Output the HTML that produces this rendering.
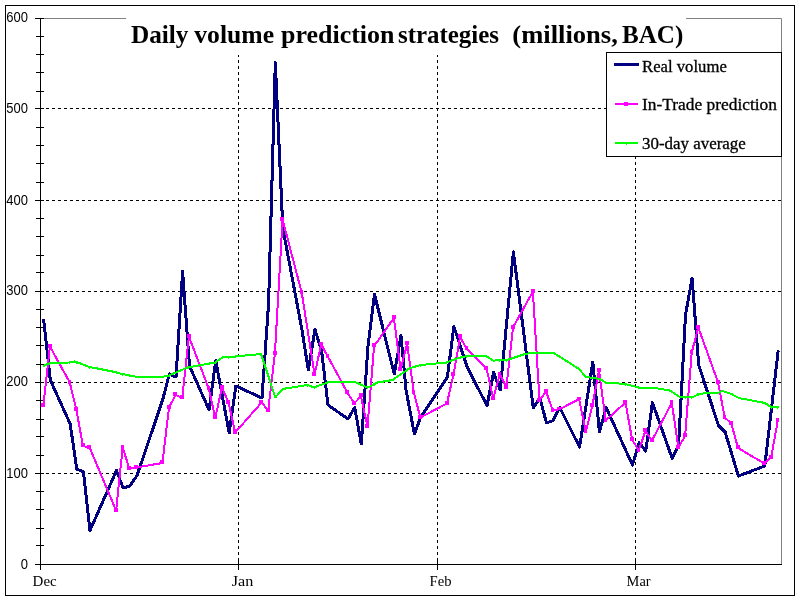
<!DOCTYPE html>
<html><head><meta charset="utf-8"><title>Daily volume prediction strategies</title>
<style>
html,body{margin:0;padding:0;background:#fff;}
body{width:800px;height:600px;overflow:hidden;font-family:"Liberation Sans",sans-serif;}
svg{display:block;}
text{fill:#000;}
svg{will-change:transform;}
</style></head><body>
<svg width="800" height="600" viewBox="0 0 800 600">
<rect x="5.5" y="5.5" width="789" height="590" fill="#fff" stroke="#000" stroke-width="1"/>
<path d="M40 18.5H781.5V564" fill="none" stroke="#808080" stroke-width="1"/>
<line x1="40" y1="108.5" x2="781" y2="108.5" stroke="#000" stroke-width="1" stroke-dasharray="3 3"/>
<line x1="40" y1="200.5" x2="781" y2="200.5" stroke="#000" stroke-width="1" stroke-dasharray="3 3"/>
<line x1="40" y1="291.5" x2="781" y2="291.5" stroke="#000" stroke-width="1" stroke-dasharray="3 3"/>
<line x1="40" y1="382.5" x2="781" y2="382.5" stroke="#000" stroke-width="1" stroke-dasharray="3 3"/>
<line x1="40" y1="473.5" x2="781" y2="473.5" stroke="#000" stroke-width="1" stroke-dasharray="3 3"/>
<line x1="238.5" y1="18" x2="238.5" y2="564" stroke="#000" stroke-width="1" stroke-dasharray="3 3"/>
<line x1="437.5" y1="18" x2="437.5" y2="564" stroke="#000" stroke-width="1" stroke-dasharray="3 3"/>
<line x1="635.5" y1="18" x2="635.5" y2="564" stroke="#000" stroke-width="1" stroke-dasharray="3 3"/>
<line x1="40.5" y1="18" x2="40.5" y2="570" stroke="#000"/>
<line x1="40" y1="564.5" x2="782" y2="564.5" stroke="#000"/>
<line x1="35" y1="18.5" x2="44" y2="18.5" stroke="#000"/>
<line x1="36" y1="36.5" x2="44" y2="36.5" stroke="#000"/>
<line x1="36" y1="54.5" x2="44" y2="54.5" stroke="#000"/>
<line x1="36" y1="72.5" x2="44" y2="72.5" stroke="#000"/>
<line x1="36" y1="91.5" x2="44" y2="91.5" stroke="#000"/>
<line x1="35" y1="108.5" x2="44" y2="108.5" stroke="#000"/>
<line x1="36" y1="127.5" x2="44" y2="127.5" stroke="#000"/>
<line x1="36" y1="145.5" x2="44" y2="145.5" stroke="#000"/>
<line x1="36" y1="163.5" x2="44" y2="163.5" stroke="#000"/>
<line x1="36" y1="182.5" x2="44" y2="182.5" stroke="#000"/>
<line x1="35" y1="200.5" x2="44" y2="200.5" stroke="#000"/>
<line x1="36" y1="218.5" x2="44" y2="218.5" stroke="#000"/>
<line x1="36" y1="236.5" x2="44" y2="236.5" stroke="#000"/>
<line x1="36" y1="255.5" x2="44" y2="255.5" stroke="#000"/>
<line x1="36" y1="272.5" x2="44" y2="272.5" stroke="#000"/>
<line x1="35" y1="291.5" x2="44" y2="291.5" stroke="#000"/>
<line x1="36" y1="309.5" x2="44" y2="309.5" stroke="#000"/>
<line x1="36" y1="327.5" x2="44" y2="327.5" stroke="#000"/>
<line x1="36" y1="345.5" x2="44" y2="345.5" stroke="#000"/>
<line x1="36" y1="364.5" x2="44" y2="364.5" stroke="#000"/>
<line x1="35" y1="382.5" x2="44" y2="382.5" stroke="#000"/>
<line x1="36" y1="400.5" x2="44" y2="400.5" stroke="#000"/>
<line x1="36" y1="419.5" x2="44" y2="419.5" stroke="#000"/>
<line x1="36" y1="436.5" x2="44" y2="436.5" stroke="#000"/>
<line x1="36" y1="455.5" x2="44" y2="455.5" stroke="#000"/>
<line x1="35" y1="473.5" x2="44" y2="473.5" stroke="#000"/>
<line x1="36" y1="491.5" x2="44" y2="491.5" stroke="#000"/>
<line x1="36" y1="509.5" x2="44" y2="509.5" stroke="#000"/>
<line x1="36" y1="528.5" x2="44" y2="528.5" stroke="#000"/>
<line x1="36" y1="545.5" x2="44" y2="545.5" stroke="#000"/>
<line x1="35" y1="564.5" x2="44" y2="564.5" stroke="#000"/>
<line x1="238.5" y1="561" x2="238.5" y2="570" stroke="#000"/>
<line x1="437.5" y1="561" x2="437.5" y2="570" stroke="#000"/>
<line x1="635.5" y1="561" x2="635.5" y2="570" stroke="#000"/>
<text transform="translate(28,21.5) scale(1,1.09)" text-anchor="end" font-family="Liberation Sans, sans-serif" font-size="13">600</text>
<text transform="translate(28,112.5) scale(1,1.09)" text-anchor="end" font-family="Liberation Sans, sans-serif" font-size="13">500</text>
<text transform="translate(28,204.5) scale(1,1.09)" text-anchor="end" font-family="Liberation Sans, sans-serif" font-size="13">400</text>
<text transform="translate(28,294.5) scale(1,1.09)" text-anchor="end" font-family="Liberation Sans, sans-serif" font-size="13">300</text>
<text transform="translate(28,385.5) scale(1,1.09)" text-anchor="end" font-family="Liberation Sans, sans-serif" font-size="13">200</text>
<text transform="translate(28,477.5) scale(1,1.09)" text-anchor="end" font-family="Liberation Sans, sans-serif" font-size="13">100</text>
<text transform="translate(28,568.5) scale(1,1.09)" text-anchor="end" font-family="Liberation Sans, sans-serif" font-size="13">0</text>
<text x="32.6" y="585.6" font-family="Liberation Serif, serif" font-size="15" textLength="24.1" lengthAdjust="spacingAndGlyphs">Dec</text>
<text x="231.8" y="585.6" font-family="Liberation Serif, serif" font-size="15" textLength="21.6" lengthAdjust="spacingAndGlyphs">Jan</text>
<text x="429.6" y="585.6" font-family="Liberation Serif, serif" font-size="15" textLength="22" lengthAdjust="spacingAndGlyphs">Feb</text>
<text x="626.6" y="585.6" font-family="Liberation Serif, serif" font-size="15" textLength="24" lengthAdjust="spacingAndGlyphs">Mar</text>
<g shape-rendering="crispEdges" fill="none" stroke-linejoin="round" stroke-linecap="round">
<polyline points="43.7,320 50.3,380 70.2,424 76.8,469 83.4,472 90,530.5 116.5,470.5 123.1,488 129.7,486 137,475.6 162.6,400 169.4,374 176,377 182.6,271.5 189.5,366 209.1,410 215.7,360.6 229.2,433 235.8,386 262,398 268.6,303 275.3,62.5 282.8,228 301.8,329 308.3,370 315,329.5 321.6,351 328,405 348,419 354.7,407.5 361.3,444 367.9,347 374.5,294.5 394.3,374 401,335.5 406,390 414.4,434 420.6,417.5 447.3,377.5 453.9,326.5 467.1,367 487,405.6 493.6,372.5 500.2,390 513.4,252 533.3,408 539.9,398 546.5,423 553.1,420.6 559.7,407.5 579.6,447 592.8,362 599.4,432 606.1,407.5 632.5,465 639.1,442.5 645.8,451 652.4,402.5 672.2,458.5 678.6,445 685.5,315 692.1,278 698.7,365 718.5,425.6 725.1,432 738.4,476 764.8,466 778.1,351.5" stroke="#000080" stroke-width="3"/>
<polyline points="43.3,405.5 49.9,346.5 69.8,382.5 76.4,410 83,446.1 89.6,447.5 116.1,510.5 122.7,447.5 129.3,468.5 135.9,467.5 162.4,463 169,407.5 175.6,394.9 182.2,398 188.9,336.5 208.7,388.5 215.3,418 221.9,387.5 228.5,402.5 235.2,432.5 261.6,402.5 268.2,410.5 274.9,353.5 282.6,219.5 301.8,293 314.6,374.5 321.2,344.25 327.8,356.5 347.6,393 354.3,403.5 360.9,396.1 367.5,426.5 374.1,346.1 393.9,318 400.6,369.5 407.2,344 413.8,392.5 420.4,417.5 446.9,403.5 453.5,374.5 460.1,337 466.7,349 486.6,368.5 493.2,398.5 499.8,374.25 506.4,387.5 513,327.5 532.9,291.5 539.5,400.5 546.1,391.5 552.7,410.5 559.3,409.25 579.2,399.25 585.8,431.5 592.4,405.5 599,370.5 605.7,420.5 625.5,402.5 632.1,439.5 638.7,450.5 645.4,431.1 652,440.5 671.8,403 678.4,447.5 685.1,436.1 691.7,352.5 698.3,327.5 718.1,382.5 724.7,417.5 731.4,423.5 738,448 764.4,463.5 771.1,457.5 777.7,421.1" stroke="#ff00ff" stroke-width="2"/>
<rect x="41.175" y="402.875" width="3.75" height="3.75" fill="#ff00ff" stroke="none"/>
<rect x="47.775" y="343.875" width="3.75" height="3.75" fill="#ff00ff" stroke="none"/>
<rect x="67.675" y="379.875" width="3.75" height="3.75" fill="#ff00ff" stroke="none"/>
<rect x="74.275" y="407.375" width="3.75" height="3.75" fill="#ff00ff" stroke="none"/>
<rect x="80.875" y="443.475" width="3.75" height="3.75" fill="#ff00ff" stroke="none"/>
<rect x="87.475" y="444.875" width="3.75" height="3.75" fill="#ff00ff" stroke="none"/>
<rect x="113.975" y="507.875" width="3.75" height="3.75" fill="#ff00ff" stroke="none"/>
<rect x="120.575" y="444.875" width="3.75" height="3.75" fill="#ff00ff" stroke="none"/>
<rect x="127.175" y="465.875" width="3.75" height="3.75" fill="#ff00ff" stroke="none"/>
<rect x="133.775" y="464.875" width="3.75" height="3.75" fill="#ff00ff" stroke="none"/>
<rect x="160.275" y="460.375" width="3.75" height="3.75" fill="#ff00ff" stroke="none"/>
<rect x="166.875" y="404.875" width="3.75" height="3.75" fill="#ff00ff" stroke="none"/>
<rect x="173.475" y="392.275" width="3.75" height="3.75" fill="#ff00ff" stroke="none"/>
<rect x="180.075" y="395.375" width="3.75" height="3.75" fill="#ff00ff" stroke="none"/>
<rect x="186.775" y="333.875" width="3.75" height="3.75" fill="#ff00ff" stroke="none"/>
<rect x="206.575" y="385.875" width="3.75" height="3.75" fill="#ff00ff" stroke="none"/>
<rect x="213.175" y="415.375" width="3.75" height="3.75" fill="#ff00ff" stroke="none"/>
<rect x="219.775" y="384.875" width="3.75" height="3.75" fill="#ff00ff" stroke="none"/>
<rect x="226.375" y="399.875" width="3.75" height="3.75" fill="#ff00ff" stroke="none"/>
<rect x="233.075" y="429.875" width="3.75" height="3.75" fill="#ff00ff" stroke="none"/>
<rect x="259.475" y="399.875" width="3.75" height="3.75" fill="#ff00ff" stroke="none"/>
<rect x="266.075" y="407.875" width="3.75" height="3.75" fill="#ff00ff" stroke="none"/>
<rect x="272.775" y="350.875" width="3.75" height="3.75" fill="#ff00ff" stroke="none"/>
<rect x="280.475" y="216.875" width="3.75" height="3.75" fill="#ff00ff" stroke="none"/>
<rect x="299.675" y="290.375" width="3.75" height="3.75" fill="#ff00ff" stroke="none"/>
<rect x="312.475" y="371.875" width="3.75" height="3.75" fill="#ff00ff" stroke="none"/>
<rect x="319.075" y="341.625" width="3.75" height="3.75" fill="#ff00ff" stroke="none"/>
<rect x="325.675" y="353.875" width="3.75" height="3.75" fill="#ff00ff" stroke="none"/>
<rect x="345.475" y="390.375" width="3.75" height="3.75" fill="#ff00ff" stroke="none"/>
<rect x="352.175" y="400.875" width="3.75" height="3.75" fill="#ff00ff" stroke="none"/>
<rect x="358.775" y="393.475" width="3.75" height="3.75" fill="#ff00ff" stroke="none"/>
<rect x="365.375" y="423.875" width="3.75" height="3.75" fill="#ff00ff" stroke="none"/>
<rect x="371.975" y="343.475" width="3.75" height="3.75" fill="#ff00ff" stroke="none"/>
<rect x="391.775" y="315.375" width="3.75" height="3.75" fill="#ff00ff" stroke="none"/>
<rect x="398.475" y="366.875" width="3.75" height="3.75" fill="#ff00ff" stroke="none"/>
<rect x="405.075" y="341.375" width="3.75" height="3.75" fill="#ff00ff" stroke="none"/>
<rect x="411.675" y="389.875" width="3.75" height="3.75" fill="#ff00ff" stroke="none"/>
<rect x="418.275" y="414.875" width="3.75" height="3.75" fill="#ff00ff" stroke="none"/>
<rect x="444.775" y="400.875" width="3.75" height="3.75" fill="#ff00ff" stroke="none"/>
<rect x="451.375" y="371.875" width="3.75" height="3.75" fill="#ff00ff" stroke="none"/>
<rect x="457.975" y="334.375" width="3.75" height="3.75" fill="#ff00ff" stroke="none"/>
<rect x="464.575" y="346.375" width="3.75" height="3.75" fill="#ff00ff" stroke="none"/>
<rect x="484.475" y="365.875" width="3.75" height="3.75" fill="#ff00ff" stroke="none"/>
<rect x="491.075" y="395.875" width="3.75" height="3.75" fill="#ff00ff" stroke="none"/>
<rect x="497.675" y="371.625" width="3.75" height="3.75" fill="#ff00ff" stroke="none"/>
<rect x="504.275" y="384.875" width="3.75" height="3.75" fill="#ff00ff" stroke="none"/>
<rect x="510.875" y="324.875" width="3.75" height="3.75" fill="#ff00ff" stroke="none"/>
<rect x="530.775" y="288.875" width="3.75" height="3.75" fill="#ff00ff" stroke="none"/>
<rect x="537.375" y="397.875" width="3.75" height="3.75" fill="#ff00ff" stroke="none"/>
<rect x="543.975" y="388.875" width="3.75" height="3.75" fill="#ff00ff" stroke="none"/>
<rect x="550.575" y="407.875" width="3.75" height="3.75" fill="#ff00ff" stroke="none"/>
<rect x="557.175" y="406.625" width="3.75" height="3.75" fill="#ff00ff" stroke="none"/>
<rect x="577.075" y="396.625" width="3.75" height="3.75" fill="#ff00ff" stroke="none"/>
<rect x="583.675" y="428.875" width="3.75" height="3.75" fill="#ff00ff" stroke="none"/>
<rect x="590.275" y="402.875" width="3.75" height="3.75" fill="#ff00ff" stroke="none"/>
<rect x="596.875" y="367.875" width="3.75" height="3.75" fill="#ff00ff" stroke="none"/>
<rect x="603.575" y="417.875" width="3.75" height="3.75" fill="#ff00ff" stroke="none"/>
<rect x="623.375" y="399.875" width="3.75" height="3.75" fill="#ff00ff" stroke="none"/>
<rect x="629.975" y="436.875" width="3.75" height="3.75" fill="#ff00ff" stroke="none"/>
<rect x="636.575" y="447.875" width="3.75" height="3.75" fill="#ff00ff" stroke="none"/>
<rect x="643.275" y="428.475" width="3.75" height="3.75" fill="#ff00ff" stroke="none"/>
<rect x="649.875" y="437.875" width="3.75" height="3.75" fill="#ff00ff" stroke="none"/>
<rect x="669.675" y="400.375" width="3.75" height="3.75" fill="#ff00ff" stroke="none"/>
<rect x="676.275" y="444.875" width="3.75" height="3.75" fill="#ff00ff" stroke="none"/>
<rect x="682.975" y="433.475" width="3.75" height="3.75" fill="#ff00ff" stroke="none"/>
<rect x="689.575" y="349.875" width="3.75" height="3.75" fill="#ff00ff" stroke="none"/>
<rect x="696.175" y="324.875" width="3.75" height="3.75" fill="#ff00ff" stroke="none"/>
<rect x="715.975" y="379.875" width="3.75" height="3.75" fill="#ff00ff" stroke="none"/>
<rect x="722.575" y="414.875" width="3.75" height="3.75" fill="#ff00ff" stroke="none"/>
<rect x="729.275" y="420.875" width="3.75" height="3.75" fill="#ff00ff" stroke="none"/>
<rect x="735.875" y="445.375" width="3.75" height="3.75" fill="#ff00ff" stroke="none"/>
<rect x="762.275" y="460.875" width="3.75" height="3.75" fill="#ff00ff" stroke="none"/>
<rect x="768.975" y="454.875" width="3.75" height="3.75" fill="#ff00ff" stroke="none"/>
<rect x="775.575" y="418.475" width="3.75" height="3.75" fill="#ff00ff" stroke="none"/>
<polyline points="43.5,366 50,363 69,362.5 74.5,361.5 82,364 89,367 95,368 115,372 122,374 128,375 137,377 162,377 169,375.5 187.5,367.5 215,362.5 222.5,357.5 235,356.5 261,354 268,375 275.3,397.5 282.5,389 307.5,385 314,387.5 328.75,382 355,382 367.8,387.7 377.5,382.5 392.5,380 410,368 421,365 446,362.5 460,357.5 470,355.6 486.25,356 493,360.6 507,360 525,354 534,352.5 553,352.5 578.75,368.75 586,377 599,378.75 606,382.5 625,384 638.75,387.5 652,387.5 670,390.6 680,397 692.5,397.5 698.75,393.75 718.75,392.5 722.5,391 731,393.75 738.75,398 765,403 771,407 778.5,407" stroke="#00ff00" stroke-width="2"/>
<rect x="49" y="364" width="1" height="1" fill="#00ff00" stroke="none"/>
<rect x="69" y="363" width="1" height="1" fill="#00ff00" stroke="none"/>
<rect x="76" y="363" width="1" height="1" fill="#00ff00" stroke="none"/>
<rect x="83" y="365" width="1" height="1" fill="#00ff00" stroke="none"/>
<rect x="89" y="368" width="1" height="1" fill="#00ff00" stroke="none"/>
<rect x="116" y="373" width="1" height="1" fill="#00ff00" stroke="none"/>
<rect x="122" y="375" width="1" height="1" fill="#00ff00" stroke="none"/>
<rect x="129" y="376" width="1" height="1" fill="#00ff00" stroke="none"/>
<rect x="135" y="377" width="1" height="1" fill="#00ff00" stroke="none"/>
<rect x="162" y="377" width="1" height="1" fill="#00ff00" stroke="none"/>
<rect x="169" y="376" width="1" height="1" fill="#00ff00" stroke="none"/>
<rect x="175" y="373" width="1" height="1" fill="#00ff00" stroke="none"/>
<rect x="182" y="370" width="1" height="1" fill="#00ff00" stroke="none"/>
<rect x="188" y="368" width="1" height="1" fill="#00ff00" stroke="none"/>
<rect x="208" y="364" width="1" height="1" fill="#00ff00" stroke="none"/>
<rect x="215" y="363" width="1" height="1" fill="#00ff00" stroke="none"/>
<rect x="221" y="358" width="1" height="1" fill="#00ff00" stroke="none"/>
<rect x="228" y="358" width="1" height="1" fill="#00ff00" stroke="none"/>
<rect x="235" y="357" width="1" height="1" fill="#00ff00" stroke="none"/>
<rect x="261" y="356" width="1" height="1" fill="#00ff00" stroke="none"/>
<rect x="268" y="376" width="1" height="1" fill="#00ff00" stroke="none"/>
<rect x="274" y="397" width="1" height="1" fill="#00ff00" stroke="none"/>
<rect x="281" y="391" width="1" height="1" fill="#00ff00" stroke="none"/>
<rect x="301" y="386" width="1" height="1" fill="#00ff00" stroke="none"/>
<rect x="307" y="386" width="1" height="1" fill="#00ff00" stroke="none"/>
<rect x="314" y="388" width="1" height="1" fill="#00ff00" stroke="none"/>
<rect x="321" y="385" width="1" height="1" fill="#00ff00" stroke="none"/>
<rect x="327" y="383" width="1" height="1" fill="#00ff00" stroke="none"/>
<rect x="347" y="382" width="1" height="1" fill="#00ff00" stroke="none"/>
<rect x="354" y="382" width="1" height="1" fill="#00ff00" stroke="none"/>
<rect x="360" y="385" width="1" height="1" fill="#00ff00" stroke="none"/>
<rect x="367" y="388" width="1" height="1" fill="#00ff00" stroke="none"/>
<rect x="374" y="385" width="1" height="1" fill="#00ff00" stroke="none"/>
<rect x="393" y="380" width="1" height="1" fill="#00ff00" stroke="none"/>
<rect x="400" y="375" width="1" height="1" fill="#00ff00" stroke="none"/>
<rect x="407" y="370" width="1" height="1" fill="#00ff00" stroke="none"/>
<rect x="413" y="367" width="1" height="1" fill="#00ff00" stroke="none"/>
<rect x="420" y="366" width="1" height="1" fill="#00ff00" stroke="none"/>
<rect x="446" y="363" width="1" height="1" fill="#00ff00" stroke="none"/>
<rect x="453" y="360" width="1" height="1" fill="#00ff00" stroke="none"/>
<rect x="460" y="358" width="1" height="1" fill="#00ff00" stroke="none"/>
<rect x="466" y="357" width="1" height="1" fill="#00ff00" stroke="none"/>
<rect x="486" y="357" width="1" height="1" fill="#00ff00" stroke="none"/>
<rect x="493" y="361" width="1" height="1" fill="#00ff00" stroke="none"/>
<rect x="499" y="361" width="1" height="1" fill="#00ff00" stroke="none"/>
<rect x="506" y="361" width="1" height="1" fill="#00ff00" stroke="none"/>
<rect x="513" y="358" width="1" height="1" fill="#00ff00" stroke="none"/>
<rect x="532" y="353" width="1" height="1" fill="#00ff00" stroke="none"/>
<rect x="539" y="353" width="1" height="1" fill="#00ff00" stroke="none"/>
<rect x="546" y="353" width="1" height="1" fill="#00ff00" stroke="none"/>
<rect x="552" y="353" width="1" height="1" fill="#00ff00" stroke="none"/>
<rect x="559" y="357" width="1" height="1" fill="#00ff00" stroke="none"/>
<rect x="579" y="370" width="1" height="1" fill="#00ff00" stroke="none"/>
<rect x="585" y="377" width="1" height="1" fill="#00ff00" stroke="none"/>
<rect x="592" y="378" width="1" height="1" fill="#00ff00" stroke="none"/>
<rect x="599" y="379" width="1" height="1" fill="#00ff00" stroke="none"/>
<rect x="605" y="383" width="1" height="1" fill="#00ff00" stroke="none"/>
<rect x="625" y="385" width="1" height="1" fill="#00ff00" stroke="none"/>
<rect x="632" y="386" width="1" height="1" fill="#00ff00" stroke="none"/>
<rect x="638" y="388" width="1" height="1" fill="#00ff00" stroke="none"/>
<rect x="645" y="388" width="1" height="1" fill="#00ff00" stroke="none"/>
<rect x="652" y="388" width="1" height="1" fill="#00ff00" stroke="none"/>
<rect x="671" y="392" width="1" height="1" fill="#00ff00" stroke="none"/>
<rect x="678" y="396" width="1" height="1" fill="#00ff00" stroke="none"/>
<rect x="685" y="398" width="1" height="1" fill="#00ff00" stroke="none"/>
<rect x="691" y="398" width="1" height="1" fill="#00ff00" stroke="none"/>
<rect x="698" y="395" width="1" height="1" fill="#00ff00" stroke="none"/>
<rect x="718" y="393" width="1" height="1" fill="#00ff00" stroke="none"/>
<rect x="724" y="392" width="1" height="1" fill="#00ff00" stroke="none"/>
<rect x="731" y="394" width="1" height="1" fill="#00ff00" stroke="none"/>
<rect x="738" y="398" width="1" height="1" fill="#00ff00" stroke="none"/>
<rect x="764" y="403" width="1" height="1" fill="#00ff00" stroke="none"/>
<rect x="771" y="408" width="1" height="1" fill="#00ff00" stroke="none"/>
<rect x="777" y="408" width="1" height="1" fill="#00ff00" stroke="none"/>
</g>
<rect x="126" y="8" width="560" height="47" fill="#fff"/>
<text x="131" y="43" font-family="Liberation Serif, serif" font-weight="bold" font-size="25" textLength="57.5" lengthAdjust="spacingAndGlyphs">Daily</text>
<text x="194.3" y="43" font-family="Liberation Serif, serif" font-weight="bold" font-size="25" textLength="79.8" lengthAdjust="spacingAndGlyphs">volume</text>
<text x="281" y="43" font-family="Liberation Serif, serif" font-weight="bold" font-size="25" textLength="113.5" lengthAdjust="spacingAndGlyphs">prediction</text>
<text x="398" y="43" font-family="Liberation Serif, serif" font-weight="bold" font-size="25" textLength="101" lengthAdjust="spacingAndGlyphs">strategies</text>
<text x="512.3" y="43" font-family="Liberation Serif, serif" font-weight="bold" font-size="25" textLength="105.5" lengthAdjust="spacingAndGlyphs">(millions,</text>
<text x="622" y="43" font-family="Liberation Serif, serif" font-weight="bold" font-size="25" textLength="61.3" lengthAdjust="spacingAndGlyphs">BAC)</text>
<rect x="606.5" y="52.5" width="175" height="104" fill="#fff" stroke="#000"/>
<g shape-rendering="crispEdges">
<line x1="615.5" y1="64.5" x2="637.5" y2="64.5" stroke="#000080" stroke-width="3" stroke-linecap="round"/>
<line x1="615" y1="104" x2="638" y2="104" stroke="#ff00ff" stroke-width="2"/>
<rect x="624" y="102" width="4" height="4" fill="#ff00ff"/>
<line x1="615" y1="143" x2="638" y2="143" stroke="#00ff00" stroke-width="2"/>
<rect x="626" y="144" width="1" height="1" fill="#00ff00"/>
</g>
<text x="642" y="71.5" font-family="Liberation Serif, serif" font-size="16.5" stroke="#000" stroke-width="0.3" textLength="84.8" lengthAdjust="spacingAndGlyphs">Real volume</text>
<text x="642" y="110" font-family="Liberation Serif, serif" font-size="16.5" stroke="#000" stroke-width="0.3" textLength="135" lengthAdjust="spacingAndGlyphs">In-Trade prediction</text>
<text x="642" y="149" font-family="Liberation Serif, serif" font-size="16.5" stroke="#000" stroke-width="0.3" textLength="103.8" lengthAdjust="spacingAndGlyphs">30-day average</text>
</svg>
</body></html>
